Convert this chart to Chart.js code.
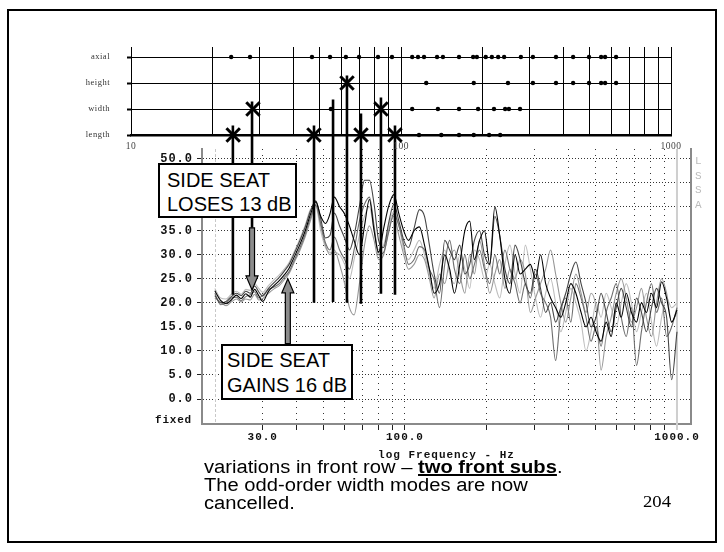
<!DOCTYPE html>
<html>
<head>
<meta charset="utf-8">
<script src="https://cdn.jsdelivr.net/npm/chart.js"></script>
<style>
  html, body { margin: 0; padding: 0; background: #fff; }
  #page { position: relative; width: 724px; height: 552px; overflow: hidden; background: #fff; }
  canvas { position: absolute; left: 0; top: 0; }
  #response { z-index: 1; }
  #modes { z-index: 2; }
  .frame { position: absolute; left: 7px; top: 9px; width: 710px; height: 534px; border: 2px solid #000; box-sizing: border-box; }
  .note { position: absolute; z-index: 3; background: #fff; border: 2px solid #000; box-sizing: border-box;
          font: 20px "Liberation Sans", Arial, sans-serif; color: #000; white-space: nowrap; }
  .caption { position: absolute; z-index: 3; left: 204px; top: 458px; font: 18px "Liberation Sans", Arial, sans-serif;
             line-height: 18px; color: #000; white-space: nowrap; transform: scaleX(1.12); transform-origin: 0 0; }
  .caption u { text-decoration-thickness: 2px; }
  .pageno { position: absolute; z-index: 3; left: 643px; top: 493px; font: 17px "Liberation Serif", serif; line-height: 17px;
            transform: scaleX(1.1); transform-origin: 0 0; }
  .fixed { position: absolute; z-index: 3; left: 155px; top: 414px; font: bold 11px "Liberation Mono", monospace;
           letter-spacing: 0.8px; line-height: 12px; color: #111; }
  .lssa { position: absolute; z-index: 3; left: 695px; top: 154px; font: 11px "Liberation Mono", monospace;
          line-height: 14.7px; color: #bbb; }
</style>
</head>
<body>
<div id="page">
  <div class="frame"></div>
  <canvas id="response" width="724" height="552"></canvas>
  <canvas id="modes" width="724" height="552"></canvas>
  <div class="note" style="left:158px; top:163px; width:139px; height:55px; padding:3px 0 0 7px; line-height:24px;">SIDE SEAT<br>LOSES 13 dB</div>
  <div class="note" style="left:221px; top:344px; width:132px; height:56px; padding:2px 0 0 4px; line-height:25px;">SIDE SEAT<br>GAINS 16 dB</div>
  <div class="fixed">fixed</div>
  <div class="lssa">L<br>S<br>S<br>A</div>
  <div class="caption">variations in front row – <b><u>two front subs</u></b>.<br>The odd-order width modes are now<br>cancelled.</div>
  <div class="pageno">204</div>
</div>
<script>
// frequency grid of the measured responses (Hz)
const freqs = [20, 21, 22, 23, 24, 25, 26, 27, 28, 29, 30, 31.5, 33, 34.5, 36, 37.5, 39, 41, 43, 45,
  47, 49, 51, 53, 55, 57.5, 60, 62.5, 65, 68, 71, 74, 77, 80, 83.5, 87, 91, 95, 99, 103,
  108, 113, 118, 123, 128, 134, 140, 146, 152, 159, 166, 173, 180, 188, 196, 205, 214, 223, 233, 243,
  254, 265, 277, 289, 302, 315, 329, 343, 358, 374, 390, 407, 425, 444, 463, 483, 504, 526, 549, 573,
  598, 624, 651, 680, 710, 740, 772, 806, 841, 878, 916, 956, 1000];

// level in dB, one array per seat
const seatA = [22.5, 20.5, 19.8, 20.6, 21.6, 20.9, 21.9, 21.2, 22.8, 21.5, 20.3, 22.4, 23.6, 24.6, 25.8, 27.2, 29.3, 32, 35, 38.5,
  41, 38, 36.5, 38.5, 42, 40, 38.5, 36, 33, 30, 36, 41.5, 35, 30.5, 35.5, 40, 42.5, 38.5, 35, 33,
  35, 35.8, 32, 27, 22,
  24, 30, 27, 22, 28, 35, 37, 29, 33, 35, 28, 40, 34, 25, 22, 30, 26, 27, 28, 25,
  30, 24, 21, 19, 17, 20, 24, 22, 18, 15, 17, 14, 12, 16, 13, 20, 17, 22, 18, 16,
  20, 18, 22, 19, 24.4, 21, 16, 18.5];
const seatB = [21.5, 20, 20.3, 21.3, 22, 21.5, 22.4, 22, 23.5, 22.3, 21.4, 23, 24.2, 25.3, 26.6, 28, 30, 32.8, 35.8, 39.2,
  41.2, 37.5, 33.5, 34, 38.7, 36, 33.5, 31, 34, 40, 45.5, 45.5, 40.5, 33, 31.5, 36.5, 40.5, 37, 33, 31.5,
  35.5, 39.4, 38, 32, 26,
  22, 33, 31, 29, 32, 26, 28, 33, 35, 30, 28, 38, 34, 27, 24, 32, 29, 24, 22, 27,
  23, 18, 20, 16, 19, 22, 26, 28.5, 24, 20, 15, 17, 22, 18, 14, 19, 23, 19, 15, 21,
  18, 14, 19, 23, 20, 17, 4, 14];
const seatC = [22, 19.6, 20, 21, 21.2, 20.5, 21.3, 21.7, 22.3, 21, 21.6, 22.8, 23.3, 24, 25.3, 26.5, 28.6, 31.3, 34.3, 37.8,
  40.3, 36.5, 32.5, 31, 33.7, 31, 29, 27, 31, 37, 40.5, 42, 36, 30, 30.5, 34.5, 38.5, 36, 32, 28,
  29, 31.7, 31, 27, 24.8,
  19, 28, 33, 27, 24, 30, 25, 28, 31, 27, 24, 30, 26, 31, 27, 24, 20, 24, 21, 26,
  22, 20, 17, 8, 18, 21, 16, 24, 21, 17, 12, 15, 11, 18, 21, 24, 17, 13, 19, 7,
  14, 20, 24, 18, 21, 13, 15, 19];
const seatD = [21, 20.2, 19.4, 20.2, 20.8, 20.2, 20.8, 20.6, 21.8, 20.6, 20.9, 22, 22.9, 23.6, 24.8, 26.1, 28.2, 30.8, 33.8, 37.2,
  40.5, 36, 32, 30, 31, 28, 24, 19, 17.5, 24, 32, 36, 33, 29, 30, 35, 38, 34, 30, 27,
  28, 30, 29, 25, 21,
  26, 24, 29, 31, 26, 22, 30, 26, 33, 28, 22, 26, 29, 23, 27, 25, 29, 26, 18, 21,
  24, 27, 31, 26, 20, 16, 21, 26, 22, 18, 22, 19, 6, 13, 17, 22, 25, 21, 16, 19,
  23, 17, 13, 20, 25, 22, 16, 18];
const seatE = [23, 21, 20.8, 21.8, 22.4, 21.8, 22.8, 22.6, 24, 23, 22.2, 23.6, 24.8, 25.8, 27, 28.4, 30.4, 33.2, 36.2, 39.5,
  40, 35, 31.5, 30.5, 30.5, 30, 28, 25, 29, 34, 38, 40, 35, 31, 32, 36, 39, 36, 31, 29,
  31, 33, 30, 26, 23,
  28, 31, 26, 24, 30, 27, 23, 31, 29, 25, 28, 24, 21, 28, 32, 26, 22, 32, 27, 21,
  17, 22, 25, 20, 14, 18, 23, 20, 16, 10, 14, 20, 17, 22, 19, 15, 20, 24, 20, 14,
  18, 22, 16, 11, 17, 21, 19, 20];

const yTicks = [0, 5, 10, 15, 20, 25, 30, 35, 40, 45, 50];
const xTicks = [30, 40, 50, 60, 70, 80, 90, 100, 200, 300, 400, 500, 600, 700, 800, 900, 1000];
const xLabelled = [30, 100, 1000];

// room modes (Hz)
const modeRows = ['length', 'width', 'height', 'axial'];
const axialModes = [23.5, 27.6, 46.8, 54.6, 62.5, 69.9, 82.2, 92.6, 110, 115.6, 121.7, 136, 143, 164, 185, 191, 206, 217, 229, 241, 278, 308, 375, 434, 497, 551, 570, 626];
const heightModes = [124, 186, 249, 308, 375, 434, 497, 551, 570, 626];
const widthModes = [55, 110, 137, 164, 193, 221, 243, 251, 276];
const lengthModes = [116.6, 141, 164, 186, 212, 233];
const markedModes = [23.9, 28.3, 47.6, 63.1, 71.1, 84.3, 95];
const markedRows = [1, 2, 1, 3, 1, 2, 1];
const modeTicks = [10, 20, 30, 40, 50, 60, 70, 80, 90, 100, 200, 300, 400, 500, 600, 700, 800, 900, 1000];

// hand drawn mode lines on the response (Hz, dB)
const lineFreqs = [23.3, 27.4, 46.3, 54.4, 61.2, 68.9, 81.6, 91.9];
const lineTopDb = [56.9, 61.9, 56.9, 62.3, 67.3, 59.4, 62.7, 56.9];
const lineEndDb = [21.7, 35.6, 20.0, 20.2, 20.0, 19.8, 21.9, 21.7];
const arrowFreqs = [27.4, 37.1];
const arrowFromDb = [35.6, 11.5];
const arrowToDb = [22.7, 25.0];
const cursorFreqs = [20, 1000];

const seats = [seatA, seatB, seatC, seatD, seatE];
const seatColors = ['#000000', '#454545', '#6e6e6e', '#979797', '#bdbdbd'];

const spacing = px => ({ id: 'spacing', beforeDraw(c) { c.ctx.letterSpacing = px; } });

const cursors = {
  id: 'cursors',
  beforeDatasetsDraw(c) {
    const { ctx, chartArea: a, scales: { x } } = c;
    ctx.save();
    let px = Math.round(x.getPixelForValue(cursorFreqs[0])) + 0.5;
    ctx.strokeStyle = '#c8c8c8';
    ctx.lineWidth = 1;
    ctx.setLineDash([3, 2]);
    ctx.beginPath(); ctx.moveTo(px, a.top); ctx.lineTo(px, a.bottom); ctx.stroke();
    px = x.getPixelForValue(cursorFreqs[1]);
    ctx.setLineDash([]);
    ctx.strokeStyle = '#cfcfcf';
    ctx.lineWidth = 2;
    ctx.beginPath(); ctx.moveTo(px, a.top); ctx.lineTo(px, a.bottom + 6); ctx.stroke();
    ctx.restore();
  }
};

const arrows = {
  id: 'arrows',
  afterDatasetsDraw(c) {
    const { ctx, scales: { x, y } } = c;
    ctx.save();
    ctx.fillStyle = '#8c8c8c';
    ctx.strokeStyle = '#000';
    ctx.lineWidth = 1.2;
    arrowFreqs.forEach((f, i) => {
      const px = x.getPixelForValue(f);
      const y0 = y.getPixelForValue(arrowFromDb[i]);
      const y1 = y.getPixelForValue(arrowToDb[i]);
      const dir = Math.sign(y1 - y0), yh = y1 - dir * 14;
      ctx.beginPath();
      ctx.moveTo(px - 2.5, y0);
      ctx.lineTo(px - 2.5, yh);
      ctx.lineTo(px - 6, yh);
      ctx.lineTo(px, y1);
      ctx.lineTo(px + 6, yh);
      ctx.lineTo(px + 2.5, yh);
      ctx.lineTo(px + 2.5, y0);
      ctx.closePath();
      ctx.fill();
      ctx.stroke();
    });
    ctx.restore();
  }
};

const markLines = lineFreqs.map((f, i) => ({
  data: [{ x: f, y: lineTopDb[i] }, { x: f, y: lineEndDb[i] }],
  borderColor: '#000',
  borderWidth: 2.6,
  pointRadius: 0,
  clip: false
}));

const curves = seats.map((s, k) => ({
  data: freqs.map((f, i) => ({ x: f, y: s[i] })),
  borderColor: seatColors[k],
  borderWidth: 1.1,
  pointRadius: 0,
  cubicInterpolationMode: 'monotone'
}));

const monoBold = size => ({ family: 'Liberation Mono', size: size, weight: 'bold' });

const mainChart = new Chart(document.getElementById('response'), {
  type: 'line',
  data: { datasets: [...markLines, ...curves] },
  options: {
    responsive: false,
    animation: false,
    devicePixelRatio: 1,
    layout: { padding: { left: 0, top: 149, right: 33, bottom: 86 } },
    plugins: { legend: { display: false }, tooltip: { enabled: false } },
    scales: {
      x: {
        type: 'logarithmic', min: 17.94, max: 1126, bounds: 'data',
        afterBuildTicks: s => { s.ticks = xTicks.map(v => ({ value: v })); },
        afterFit: s => { s.height = 42; },
        ticks: {
          autoSkip: false, maxRotation: 0, padding: 1, color: '#111', font: monoBold(11),
          callback: v => xLabelled.includes(v) ? v.toFixed(1) : ''
        },
        grid: {
          color: c => (c.tick && c.tick.value === 1000) ? 'rgba(0,0,0,0)' : '#333',
          lineWidth: 1, tickLength: 6, tickColor: '#222'
        },
        border: { color: '#8a8a8a', width: 2, dash: [1, 5] },
        title: { display: true, text: 'log Frequency - Hz', color: '#111', font: monoBold(11), padding: { top: 0, bottom: 4 } }
      },
      y: {
        type: 'linear', min: -5.2, max: 52, bounds: 'data',
        afterBuildTicks: s => { s.ticks = yTicks.map(v => ({ value: v })); },
        afterFit: s => { s.width = 202; },
        ticks: { padding: 4, color: '#111', font: monoBold(12), callback: v => v.toFixed(1) },
        grid: { color: '#333', lineWidth: 1, tickLength: 5, tickColor: '#222' },
        border: { color: '#8a8a8a', width: 2, dash: [1, 2] }
      },
      yR: {
        position: 'right',
        afterFit: s => { s.width = 0; },
        ticks: { display: false },
        grid: { display: false, drawTicks: false },
        border: { color: '#8a8a8a', width: 2 }
      }
    }
  },
  plugins: [spacing('1px'), cursors, arrows]
});

const modeSets = [axialModes, heightModes, widthModes, lengthModes].map((arr, k) => ({
  data: arr.map(f => ({ x: f, y: 4 - k })),
  pointRadius: 2.2,
  pointBackgroundColor: '#000',
  pointBorderWidth: 0,
  clip: false
}));

new Chart(document.getElementById('modes'), {
  type: 'scatter',
  data: {
    datasets: [{
      data: markedModes.map((f, i) => ({ x: f, y: markedRows[i] })),
      pointStyle: 'crossRot',
      pointRadius: 9.5,
      pointBorderWidth: 3,
      pointBorderColor: '#000',
      clip: false
    }, ...modeSets]
  },
  options: {
    responsive: false,
    animation: false,
    devicePixelRatio: 1,
    layout: { padding: { left: 0, top: 47, right: 53, bottom: 397 } },
    plugins: { legend: { display: false }, tooltip: { enabled: false } },
    scales: {
      x: {
        type: 'logarithmic', min: 10, max: 1000, bounds: 'data',
        afterBuildTicks: s => { s.ticks = modeTicks.map(v => ({ value: v })); },
        afterFit: s => { s.height = 20; },
        ticks: {
          autoSkip: false, maxRotation: 0, padding: 6, color: '#444',
          font: { family: 'Liberation Serif', size: 9.5 },
          callback: v => [10, 100, 1000].includes(v) ? String(v) : ''
        },
        grid: { color: '#000', lineWidth: 1, drawTicks: false },
        border: { color: '#000', width: 2.5 }
      },
      y: {
        type: 'linear', min: 1, max: 4.385, bounds: 'data',
        afterBuildTicks: s => { s.ticks = [1, 2, 3, 4].map(v => ({ value: v })); },
        afterFit: s => { s.width = 131; },
        ticks: {
          padding: 17, color: '#333', font: { family: 'Liberation Serif', size: 8.5 },
          callback: v => modeRows[v - 1]
        },
        grid: { color: '#000', lineWidth: 1, tickLength: 4, tickWidth: 2, tickColor: '#000' },
        border: { color: '#000', width: 1 }
      }
    }
  },
  plugins: [spacing('0.5px')]
});
</script>
</body>
</html>
